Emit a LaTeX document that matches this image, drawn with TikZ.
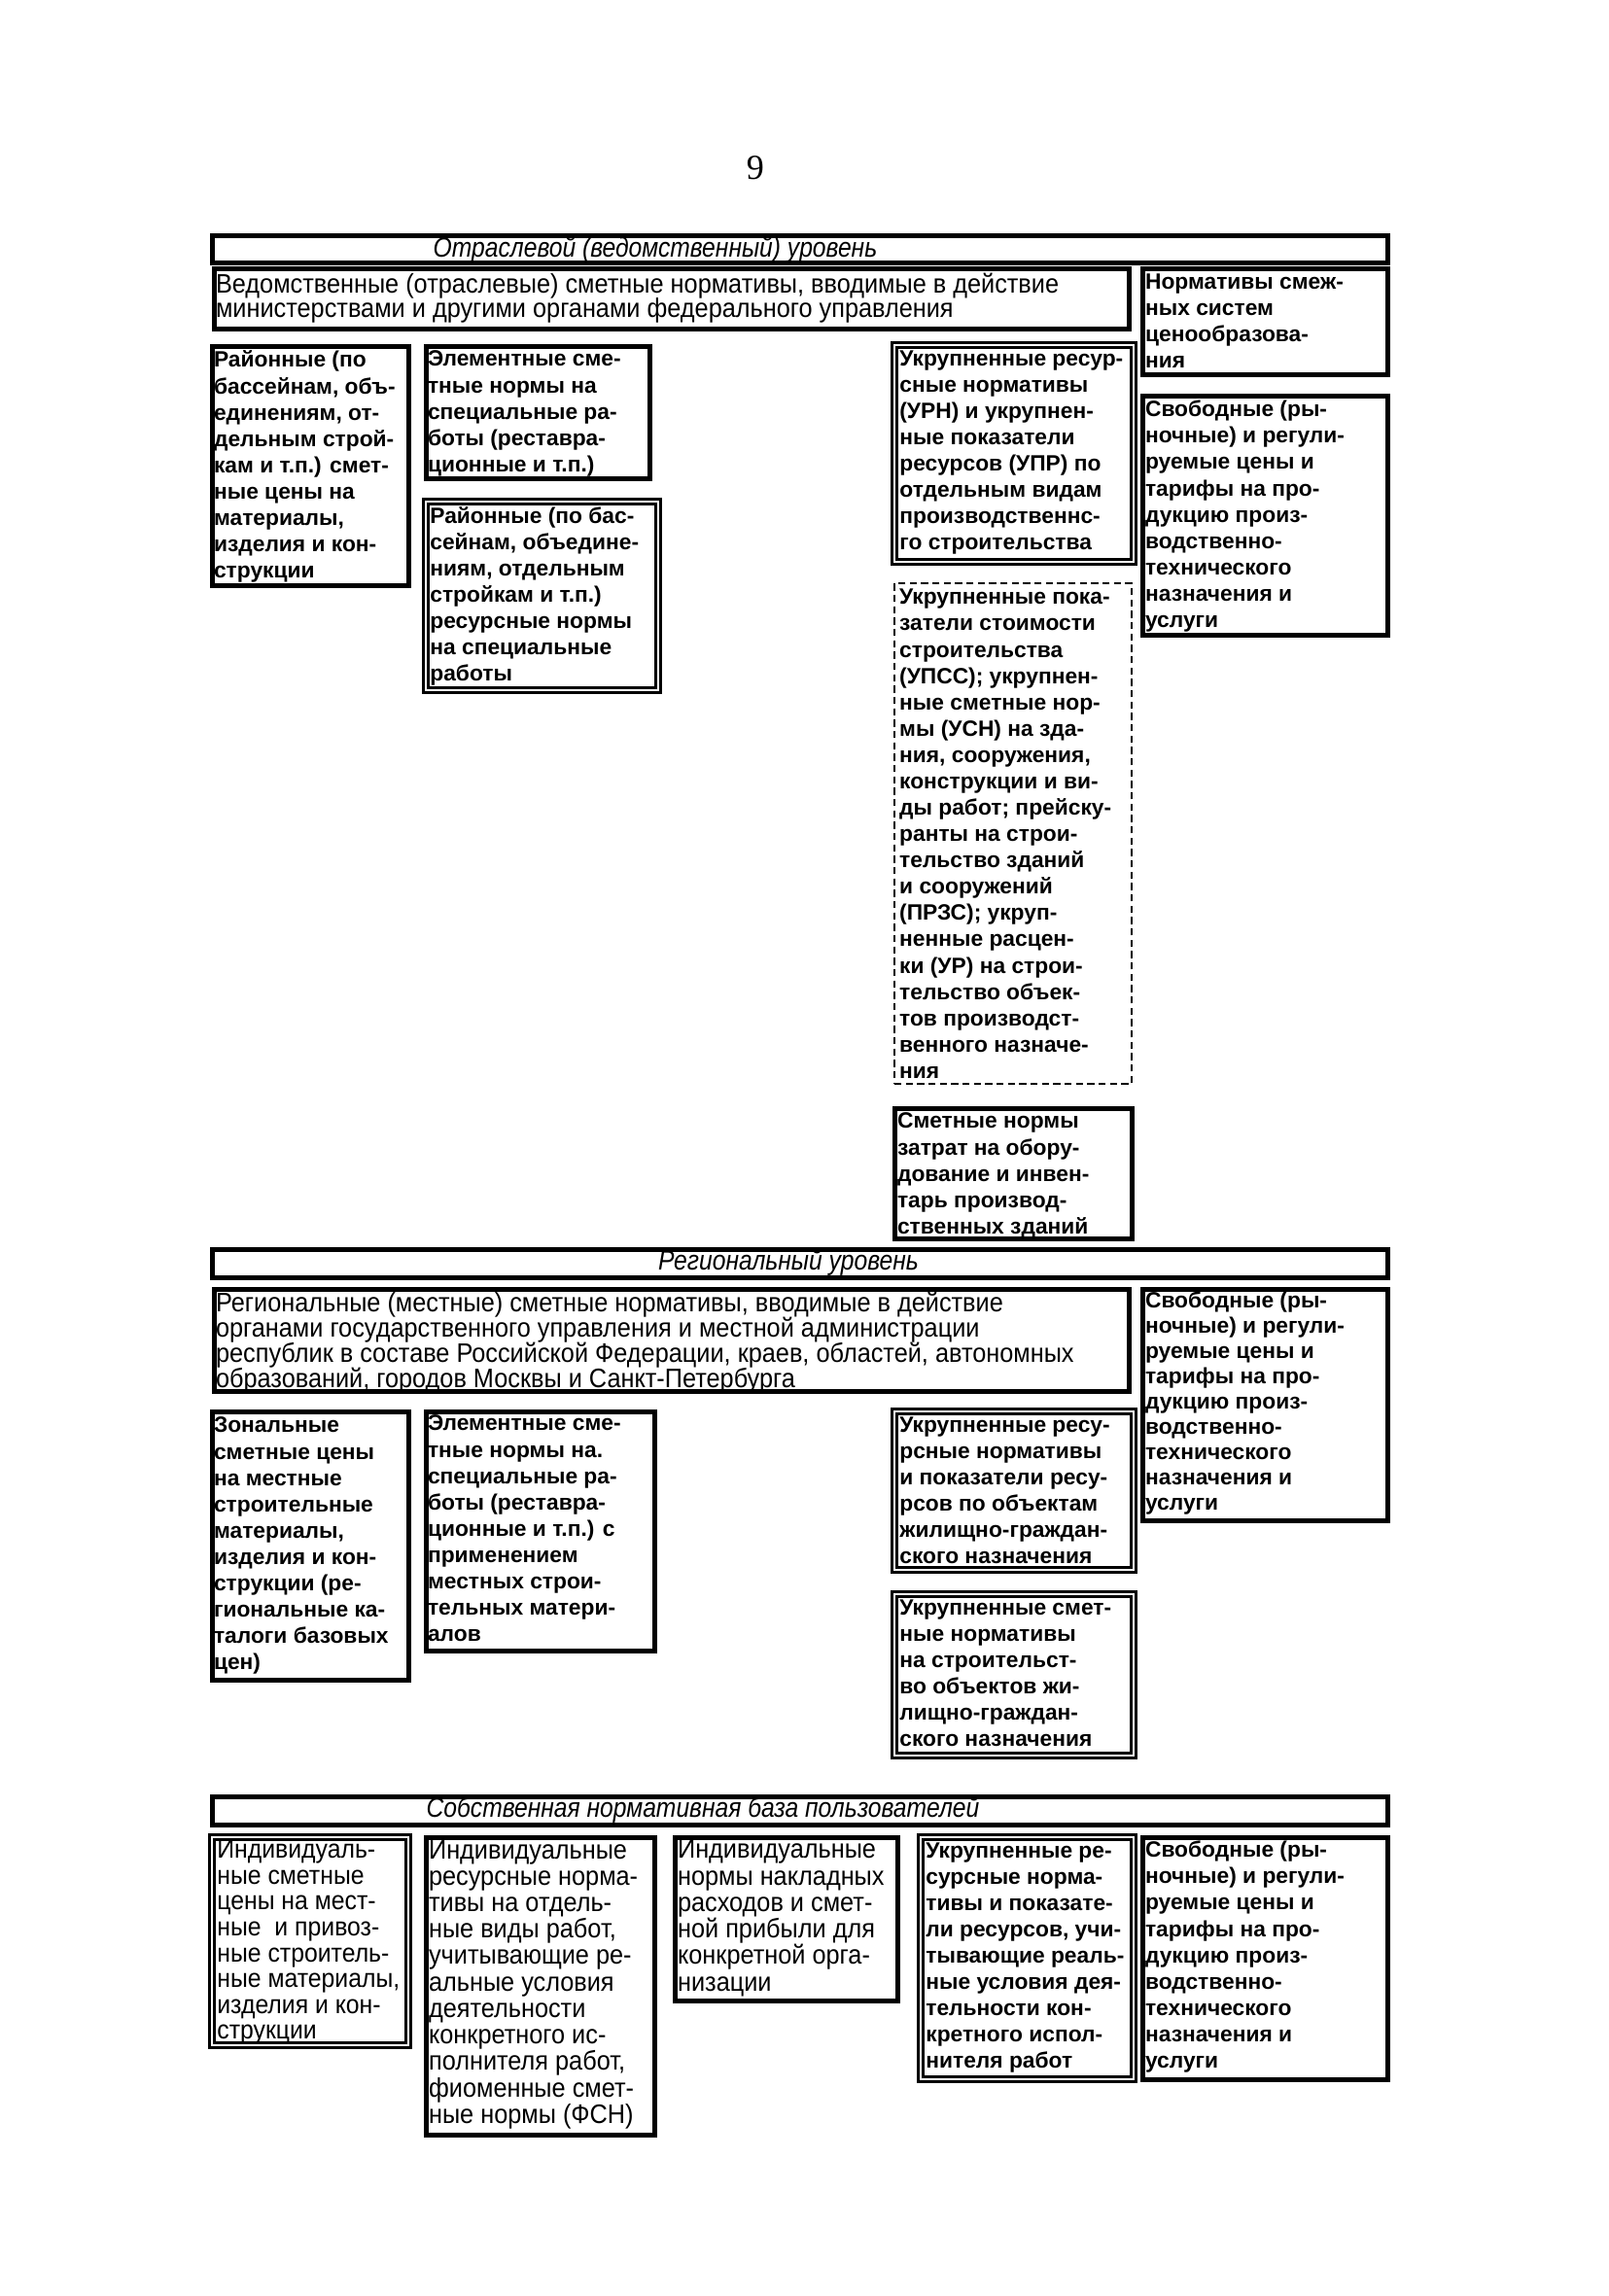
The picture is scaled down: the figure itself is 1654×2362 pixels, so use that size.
\documentclass[tikz,border=0pt]{standalone}
\usepackage{fontspec}
\setmainfont{Liberation Sans}
\newfontfamily\fw{Liberation Sans}
\newfontfamily\fn[FakeStretch=0.92]{Liberation Sans}
\newfontfamily\fh[FakeStretch=0.87]{Liberation Sans}
\newfontfamily\fser{Liberation Serif}
\newcommand\myfs[2]{\fontsize{#1}{#2}\selectfont\lineskiplimit=-20pt\lineskip=0pt}
\usetikzlibrary{fit}
\tikzset{
  sbox/.style={draw, line width=1.8pt, inner sep=0pt, rectangle},
  dbox/.style={draw, double, double distance=0.9pt, line width=0.85pt, inner sep=0pt, rectangle},
  dashbox/.style={draw, line width=1pt, dash pattern=on 2.6pt off 1.6pt, inner sep=0pt, rectangle},
  hbar/.style={draw, line width=1.8pt, inner sep=0pt, rectangle},
  wtxt/.style={anchor=north west, inner sep=0pt, align=left, font=\fw\bfseries\myfs{8.2}{9.75}},
  ntxt/.style={anchor=north west, inner sep=0pt, align=left, font=\fn\myfs{9.9}{9.8}},
  htxt/.style={inner sep=0pt, font=\fh\itshape\myfs{10.2}{11}},
}
\begin{document}
\begin{tikzpicture}[x=0.36pt,y=-0.36pt]
\fill[white] (0,0) rectangle (1654,2362);
\useasboundingbox (0,0) rectangle (1654,2362);

\node[font=\fser\fontsize{13}{14}\selectfont] (pnum) at (777,173) {9};

% ---------- Top level ----------
\node[hbar, fit={(218,243) (1427,271)}] (h1) {};
\node[htxt] (h1t) at (674,257) {Отраслевой (ведомственный) уровень};

\node[sbox, fit={(220,277) (1161,339)}] (a) {};
\node[ntxt, font=\fn\myfs{9.9}{9.0}] (at) at ([shift={(4,6)}]a.north west) {Ведомственные (отраслевые) сметные нормативы, вводимые в действие\\министерствами и другими органами федерального управления};

\node[sbox, fit={(1175,277) (1427,386)}] (b) {};
\node[wtxt] (bt) at ([shift={(5,7)}]b.north west) {Нормативы смеж-\\ных систем\\ценообразова-\\ния};

\node[sbox, fit={(218,357) (420,603)}] (c) {};
\node[wtxt] (ct) at ([shift={(4,6)}]c.north west) {Районные (по\\бассейнам, объ-\\единениям, от-\\дельным строй-\\кам и т.п.) смет-\\ные цены на\\материалы,\\изделия и кон-\\струкции};

\node[sbox, fit={(438,357) (668,493)}] (d) {};
\node[wtxt] (dt) at ([shift={(4,6)}]d.north west) {Элементные сме-\\тные нормы на\\специальные ра-\\боты (реставра-\\ционные и т.п.)};

\node[dbox, fit={(438,516) (677,710)}] (e) {};
\node[wtxt] (et) at ([shift={(5,6)}]e.north west) {Районные (по бас-\\сейнам, объедине-\\ниям, отдельным\\стройкам и т.п.)\\ресурсные нормы\\на специальные\\работы};

\node[dbox, fit={(920,355) (1166,578)}] (f) {};
\node[wtxt] (ft) at ([shift={(6,6)}]f.north west) {Укрупненные ресур-\\сные нормативы\\(УРН) и укрупнен-\\ные показатели\\ресурсов (УПР) по\\отдельным видам\\производственнс-\\го строительства};

\node[sbox, fit={(1175,408) (1427,654)}] (g) {};
\node[wtxt] (gt) at ([shift={(5,6)}]g.north west) {Свободные (ры-\\ночные) и регули-\\руемые цены и\\тарифы на про-\\дукцию произ-\\водственно-\\технического\\назначения и\\услуги};

\node[dashbox, fit={(920,600) (1164,1115)}] (hh) {};
\node[wtxt] (hht) at ([shift={(6,7)}]hh.north west) {Укрупненные пока-\\затели стоимости\\строительства\\(УПСС); укрупнен-\\ные сметные нор-\\мы (УСН) на зда-\\ния, сооружения,\\конструкции и ви-\\ды работ; прейску-\\ранты на строи-\\тельство зданий\\и сооружений\\(ПРЗС); укруп-\\ненные расцен-\\ки (УР) на строи-\\тельство объек-\\тов производст-\\венного назначе-\\ния};

\node[sbox, fit={(920,1140) (1164,1274)}] (i) {};
\node[wtxt] (it) at ([shift={(5,7)}]i.north west) {Сметные нормы\\затрат на обору-\\дование и инвен-\\тарь производ-\\ственных зданий};

% ---------- Regional level ----------
\node[hbar, fit={(218,1285) (1427,1314)}] (h2) {};
\node[htxt] (h2t) at (811,1299) {Региональный уровень};

\node[sbox, fit={(220,1326) (1161,1431)}] (j) {};
\node[ntxt, font=\fn\myfs{9.9}{9.4}] (jt) at ([shift={(4,5)}]j.north west) {Региональные (местные) сметные нормативы, вводимые в действие\\органами государственного управления и местной администрации\\республик в составе Российской Федерации, краев, областей, автономных\\образований, городов Москвы и Санкт-Петербурга};

\node[sbox, fit={(1175,1326) (1427,1564)}] (k) {};
\node[wtxt, font=\fw\bfseries\myfs{8.2}{9.35}] (kt) at ([shift={(5,5)}]k.north west) {Свободные (ры-\\ночные) и регули-\\руемые цены и\\тарифы на про-\\дукцию произ-\\водственно-\\технического\\назначения и\\услуги};

\node[sbox, fit={(218,1452) (420,1728)}] (l) {};
\node[wtxt] (lt) at ([shift={(4,8)}]l.north west) {Зональные\\сметные цены\\на местные\\строительные\\материалы,\\изделия и кон-\\струкции (ре-\\гиональные ка-\\талоги базовых\\цен)};

\node[sbox, fit={(438,1452) (673,1698)}] (m) {};
\node[wtxt] (mt) at ([shift={(4,6)}]m.north west) {Элементные сме-\\тные нормы на.\\специальные ра-\\боты (реставра-\\ционные и т.п.) с\\применением\\местных строи-\\тельных матери-\\алов};

\node[dbox, fit={(920,1452) (1166,1615)}] (n) {};
\node[wtxt] (nt) at ([shift={(6,6)}]n.north west) {Укрупненные ресу-\\рсные нормативы\\и показатели ресу-\\рсов по объектам\\жилищно-граждан-\\ского назначения};

\node[dbox, fit={(920,1640) (1166,1806)}] (o) {};
\node[wtxt] (ot) at ([shift={(6,6)}]o.north west) {Укрупненные смет-\\ные нормативы\\на строительст-\\во объектов жи-\\лищно-граждан-\\ского назначения};

% ---------- Users' own level ----------
\node[hbar, fit={(218,1848) (1427,1877)}] (h3) {};
\node[htxt] (h3t) at (723,1862) {Собственная нормативная база пользователей};

\node[dbox, fit={(218,1890) (420,2104)}] (p) {};
\node[ntxt, font=\fn\myfs{9.7}{9.55}] (pt) at ([shift={(6,4)}]p.north west) {Индивидуаль-\\ные сметные\\цены на мест-\\ные \ и привоз-\\ные строитель-\\ные материалы,\\изделия и кон-\\струкции};

\node[sbox, fit={(438,1890) (673,2196)}] (q) {};
\node[ntxt] (qt) at ([shift={(5,5)}]q.north west) {Индивидуальные\\ресурсные норма-\\тивы на отдель-\\ные виды работ,\\учитывающие ре-\\альные условия\\деятельности\\конкретного ис-\\полнителя работ,\\фиоменные смет-\\ные нормы (ФСН)};

\node[sbox, fit={(694,1890) (923,2058)}] (r) {};
\node[ntxt] (rt) at ([shift={(5,5)}]r.north west) {Индивидуальные\\нормы накладных\\расходов и смет-\\ной прибыли для\\конкретной орга-\\низации};

\node[dbox, fit={(947,1890) (1166,2139)}] (s) {};
\node[wtxt] (st) at ([shift={(6,6)}]s.north west) {Укрупненные ре-\\сурсные норма-\\тивы и показате-\\ли ресурсов, учи-\\тывающие реаль-\\ные условия дея-\\тельности кон-\\кретного испол-\\нителя работ};

\node[sbox, fit={(1175,1890) (1427,2139)}] (t) {};
\node[wtxt] (tt) at ([shift={(5,6)}]t.north west) {Свободные (ры-\\ночные) и регули-\\руемые цены и\\тарифы на про-\\дукцию произ-\\водственно-\\технического\\назначения и\\услуги};
\end{tikzpicture}
\end{document}
